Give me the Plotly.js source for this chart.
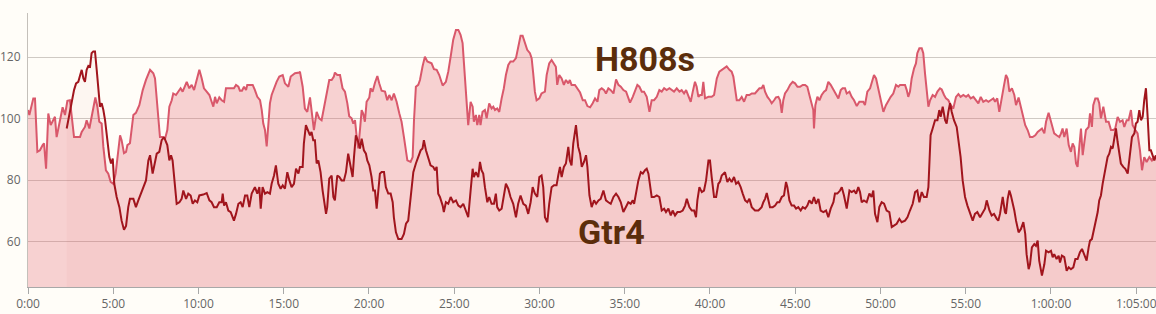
<!DOCTYPE html>
<html>
<head>
<meta charset="utf-8">
<script src="https://cdn.plot.ly/plotly-3.0.1.min.js"></script>
<style>
  html, body { margin: 0; padding: 0; background: #fffdf8; }
  #chart { width: 1156px; height: 314px; }
</style>
</head>
<body>
<div id="chart"></div>
<script>
// time in minutes, heart rate in bpm
const h808sTime = [0,0.08,0.31,0.41,0.55,0.70,0.86,0.94,1.06,1.19,1.33,1.45,1.58,1.68,1.88,2.03,2.17,2.31,2.46,2.56,2.70,3.05,3.15,3.34,3.44,3.60,3.79,3.95,4.07,4.18,4.32,4.42,4.57,4.71,4.85,5.00,5.14,5.30,5.40,5.49,5.63,5.75,5.83,5.98,6.18,6.33,6.53,6.73,6.92,7.16,7.35,7.45,7.59,7.74,7.90,8.04,8.17,8.29,8.43,8.52,8.68,8.82,8.95,9.07,9.21,9.31,9.46,9.60,9.74,9.85,9.93,10.05,10.19,10.32,10.48,10.64,10.77,10.87,10.97,11.07,11.22,11.36,11.50,11.61,11.85,12.08,12.20,12.34,12.43,12.55,12.67,12.79,12.86,13.02,13.18,13.31,13.45,13.61,13.71,13.80,13.90,14.00,14.10,14.19,14.29,14.43,14.58,14.74,14.94,15.07,15.27,15.41,15.52,15.66,15.91,15.95,16.11,16.24,16.38,16.54,16.63,16.77,16.93,17.08,17.22,17.36,17.51,17.67,17.81,17.94,18.00,18.14,18.30,18.45,18.59,18.73,18.84,18.98,19.08,19.18,19.27,19.37,19.47,19.57,19.66,19.76,19.86,20.02,20.09,20.21,20.35,20.49,20.60,20.74,20.94,21.07,21.19,21.33,21.46,21.62,21.78,21.91,22.05,22.17,22.25,22.44,22.56,22.64,22.75,22.89,22.99,23.14,23.28,23.42,23.67,23.81,23.97,24.12,24.32,24.51,24.65,24.79,24.94,25.10,25.24,25.37,25.49,25.57,25.68,25.82,25.96,26.08,26.15,26.27,26.35,26.47,26.54,26.66,26.80,26.90,27.05,27.19,27.29,27.39,27.52,27.64,27.78,27.91,28.03,28.17,28.30,28.46,28.62,28.75,28.89,29.01,29.15,29.28,29.44,29.54,29.63,29.73,29.83,29.99,30.12,30.32,30.42,30.57,30.71,30.85,30.96,31.04,31.16,31.30,31.43,31.55,31.69,31.78,31.88,32.08,32.21,32.38,32.54,32.67,32.81,32.97,33.12,33.26,33.40,33.51,33.65,33.79,33.90,34.04,34.18,34.34,34.49,34.63,34.77,34.92,35.08,35.21,35.31,35.47,35.61,35.74,35.86,36.00,36.13,36.29,36.45,36.58,36.72,36.88,37.03,37.17,37.31,37.46,37.62,37.76,37.89,38.05,38.21,38.34,38.48,38.60,38.73,38.87,38.99,39.12,39.22,39.32,39.42,39.52,39.61,39.71,39.91,40.10,40.24,40.40,40.55,40.79,40.98,41.14,41.27,41.37,41.47,41.57,41.72,41.86,42.00,42.15,42.31,42.45,42.64,42.78,42.90,43.03,43.13,43.23,43.37,43.52,43.62,43.76,43.87,44.01,44.11,44.21,44.30,44.40,44.54,44.70,44.85,44.99,45.13,45.28,45.44,45.58,45.71,45.83,45.97,46.06,46.10,46.18,46.30,46.42,46.55,46.69,46.81,46.94,47.08,47.24,47.39,47.53,47.67,47.78,47.92,48.02,48.18,48.31,48.45,48.61,48.76,48.99,49.09,49.23,49.39,49.48,49.62,49.74,49.88,50.01,50.17,50.32,50.46,50.60,50.75,50.91,51.05,51.15,51.30,51.44,51.54,51.63,51.73,51.83,51.97,52.08,52.16,52.28,52.42,52.51,52.61,52.71,52.81,52.91,53.06,53.20,53.34,53.49,53.59,53.73,53.84,53.98,54.12,54.27,54.43,54.57,54.70,54.86,55.02,55.15,55.29,55.45,55.60,55.74,55.88,56.03,56.19,56.33,56.46,56.62,56.72,56.85,56.97,57.11,57.25,57.36,57.46,57.56,57.71,57.85,57.95,58.10,58.24,58.38,58.49,58.63,58.77,58.92,59.08,59.22,59.35,59.47,59.61,59.71,59.86,60.00,60.10,60.19,60.33,60.49,60.59,60.68,60.78,60.92,61.04,61.17,61.27,61.37,61.47,61.56,61.66,61.76,61.86,61.95,62.05,62.21,62.29,62.40,62.48,62.60,62.74,62.83,62.93,63.07,63.23,63.38,63.52,63.66,63.77,63.91,64.05,64.20,64.30,64.44,64.55,64.69,64.79,64.95,65.08,65.22,65.34,65.47,65.61,65.77,65.92,66.06,66.16];
const h808sHr = [102.8,101.2,106.6,106.6,89.2,89.7,91.4,92,83.7,101.7,97.9,99,100.6,94,99.5,103.7,101.2,105.8,106,101.7,94,94,95.7,97.3,99.5,96.8,102.8,106.9,103.9,99,98.4,90.8,83.2,82.1,79.4,78.8,82.1,90.8,94.6,93,88.8,89.2,91.4,92,101.2,101.9,104.4,109.3,112.6,115.9,114.8,113.1,103.9,94,94,93.5,96.3,103.9,106,108.2,107.7,108.8,109.9,108.8,111,112,109.9,111,109.3,111.5,113.7,115.9,113.1,109.9,108.8,107.7,105.5,103.9,107.1,105,106.9,106,105.5,109.9,109.9,109.9,111,110.4,109.1,109.1,110.4,109.3,111,111,111,109.3,107.1,106,102.8,98.4,96.3,91,97.3,105,107.7,109.9,112,113.7,114.2,111.5,110.4,113.7,114.2,114.8,115,115.3,110.4,103.3,102.2,106.9,102.8,96.3,102.2,100.1,99.5,103.9,108.2,112.6,112.6,113.7,115,114.2,114.2,109.9,108.8,105,100.8,100.1,98.4,99.5,94.6,90.3,96.3,102.8,101.7,99,105.5,106.9,109.9,108.8,111.7,113.9,111.5,109.1,108.8,106,107.7,106,108.2,105.5,101.7,99,94,89.7,86.4,85.9,87.5,99.5,110.4,111,112.6,117,120.2,118.6,118,116.1,115.9,114.2,110.8,112,115.3,120.2,125.7,128.9,128.9,127.3,124.6,118,108.2,97.9,105.5,103.9,99,101.2,97.9,101.2,97.9,102.2,102.8,100.1,105,103.3,103.9,102.8,103.3,102.2,106.6,109.9,114.2,117.5,118.6,118.6,119.7,123.5,127,127,124.6,122.4,121.3,119.7,114.8,108.8,106,106.6,108.2,108.8,114.2,118,119.1,118,116.9,111,114.2,113.1,111,112.6,111.5,112.6,111,111,109.9,108.5,106,106,104.1,103.7,105,106.6,105.5,109.3,109.9,109.3,108.2,109.9,109.3,108.2,112.8,111,110.4,109.3,108.8,106.6,105.2,107.1,109.3,111,110.4,108.8,108.8,107.1,102.2,106,106,107.1,109.3,108.8,109.9,109.3,109.9,109.3,108.8,109.9,108.8,109.3,108.2,109.3,107.1,105.5,108.8,112,110.4,107.1,107.7,107.7,112,106.6,107.1,107.1,107.7,113.1,115.3,116.4,117,115.9,115.3,113.7,110.4,106,106,107.1,105.5,107.7,107.7,108.2,108.2,109.3,109.9,109.9,111,108.8,107.1,106,105,106,106.9,107.1,106,101.9,106,108.2,109.3,111,112,111.5,110.4,110.4,111,111,110.4,107.7,105,102.8,96.8,104.4,107.1,106,107.7,108.8,109.3,112,111,109.3,108.2,106.6,109.3,109.9,109.9,108.2,108.8,107.1,106,104.1,105.5,105.5,104.4,108.8,109.9,111.5,114.2,113.1,109.3,106.6,102.2,104.4,106,107.1,108.2,111,110.4,111,111,111,109.3,107.1,108.8,113.1,116.4,118,121.3,122.9,122.9,121.3,114.8,109.3,103.9,106,107.7,107.1,108.8,109.9,109.5,107.7,106.6,106,104.4,103.3,107.1,108,107.1,107.7,107.1,107.7,106.6,107.1,106,105,107.1,105.5,106,105.5,106,106.6,105.5,106.6,102.2,106,111,114.2,113.1,108.8,109.9,107.7,104.4,106.9,103.9,100.6,97.9,96.3,94,94,94.6,95.7,96.3,96.8,95.2,99,101.9,99,96.3,95.2,94.6,94,95.2,96.8,94,96.8,91.4,89.2,91.9,90.8,85.4,84.3,90.8,96.8,88.1,93,96.3,97.3,101.7,97.3,104.4,106.6,106.6,105,100.1,103.9,99,99,96.3,96.3,96.8,100.6,99,99.5,97.3,99.5,99.5,102.8,97.9,96.3,95.2,89.7,83.2,87.5,85.9,87.5,86.4,87.5,87];

const gtr4Time = [2.27,2.42,2.56,2.70,2.82,2.95,3.09,3.15,3.25,3.34,3.44,3.54,3.64,3.73,3.83,3.93,4.03,4.14,4.22,4.32,4.42,4.52,4.65,4.77,4.87,4.97,5.06,5.20,5.36,5.49,5.63,5.75,5.88,5.98,6.18,6.33,6.47,6.67,6.80,6.92,7.06,7.16,7.31,7.45,7.55,7.70,7.84,7.98,8.13,8.17,8.29,8.39,8.48,8.62,8.72,8.88,9.01,9.11,9.27,9.40,9.54,9.66,9.79,9.93,10.05,10.28,10.48,10.64,10.77,10.91,11.07,11.22,11.36,11.42,11.50,11.61,11.75,11.89,12.08,12.20,12.34,12.47,12.59,12.73,12.86,12.98,13.12,13.31,13.45,13.57,13.65,13.76,13.90,14.04,14.19,14.29,14.43,14.54,14.68,14.82,14.94,15.07,15.21,15.33,15.46,15.60,15.72,15.86,15.95,16.11,16.18,16.30,16.44,16.54,16.63,16.73,16.83,16.93,17.03,17.16,17.28,17.38,17.48,17.55,17.67,17.81,17.91,18.00,18.14,18.26,18.39,18.53,18.65,18.78,18.88,19.04,19.12,19.23,19.37,19.47,19.57,19.70,19.82,19.90,20.02,20.15,20.25,20.35,20.45,20.54,20.64,20.74,20.88,20.99,21.13,21.27,21.39,21.46,21.58,21.72,21.91,22.05,22.17,22.30,22.40,22.50,22.60,22.75,22.89,23.03,23.14,23.22,23.34,23.48,23.61,23.77,23.87,23.97,24.06,24.16,24.32,24.39,24.51,24.65,24.79,24.94,25.10,25.24,25.37,25.53,25.68,25.82,25.96,26.08,26.15,26.27,26.41,26.51,26.60,26.70,26.80,26.94,27.05,27.19,27.33,27.44,27.52,27.64,27.78,27.91,28.03,28.17,28.30,28.46,28.62,28.75,28.89,29.05,29.20,29.34,29.48,29.60,29.73,29.87,29.99,30.12,30.22,30.32,30.46,30.57,30.71,30.85,31.00,31.10,31.20,31.30,31.43,31.55,31.69,31.78,31.88,31.98,32.14,32.27,32.38,32.48,32.61,32.73,32.81,32.93,33.06,33.20,33.32,33.46,33.59,33.75,33.90,34.04,34.18,34.34,34.49,34.63,34.77,34.92,35.08,35.21,35.35,35.47,35.55,35.66,35.80,35.94,36.06,36.19,36.29,36.39,36.49,36.58,36.72,36.88,37.03,37.17,37.31,37.42,37.56,37.70,37.81,37.95,38.09,38.24,38.40,38.54,38.64,38.79,38.93,39.07,39.18,39.26,39.38,39.52,39.65,39.77,39.91,40.00,40.10,40.24,40.36,40.49,40.59,40.69,40.88,41.02,41.14,41.27,41.41,41.53,41.66,41.80,41.92,42.06,42.19,42.31,42.45,42.64,42.84,43.03,43.13,43.23,43.33,43.42,43.52,43.68,43.82,43.95,44.07,44.21,44.34,44.46,44.54,44.66,44.79,44.93,45.05,45.18,45.32,45.44,45.58,45.71,45.83,45.97,46.10,46.22,46.36,46.49,46.65,46.81,46.94,47.08,47.24,47.33,47.47,47.63,47.73,47.86,48.02,48.18,48.31,48.45,48.57,48.70,48.80,48.90,49.03,49.19,49.35,49.48,49.58,49.68,49.82,49.93,50.07,50.21,50.36,50.52,50.66,50.79,50.95,51.11,51.24,51.44,51.58,51.73,51.89,52.03,52.16,52.28,52.42,52.55,52.71,52.81,52.87,52.94,53.06,53.20,53.34,53.45,53.53,53.65,53.79,53.88,53.98,54.08,54.18,54.31,54.47,54.57,54.70,54.82,54.96,55.10,55.25,55.41,55.54,55.68,55.84,55.99,56.13,56.23,56.39,56.52,56.66,56.82,56.91,57.01,57.17,57.30,57.36,57.46,57.56,57.65,57.75,57.85,57.95,58.10,58.24,58.38,58.49,58.57,58.69,58.77,58.88,59.02,59.12,59.22,59.31,59.47,59.61,59.71,59.86,60.00,60.10,60.19,60.33,60.45,60.53,60.64,60.78,60.92,61.04,61.17,61.31,61.43,61.56,61.70,61.82,61.95,62.09,62.21,62.29,62.40,62.54,62.64,62.74,62.83,62.93,63.03,63.13,63.23,63.32,63.42,63.52,63.62,63.71,63.81,63.91,64.01,64.10,64.24,64.36,64.50,64.59,64.75,64.89,64.98,65.08,65.18,65.28,65.38,65.47,65.57,65.67,65.77,65.86,65.96,66.06,66.16];
const gtr4Hr = [96.8,101.2,106,109.3,111.5,112,114.8,115.9,113.1,112,115.9,117.2,116.9,121.3,121.9,121.9,115.9,108.2,103.9,105,102.8,99.5,93,87.5,85.4,87,78.8,74.5,71.2,66.8,63.8,65.1,71.2,73.9,73.9,71.2,73.4,76.1,78.3,79.9,86.4,88.1,82.1,86.4,88.6,89.2,93,94,91.9,91.4,86.4,88.1,86.4,77.7,72.3,72.8,73.9,76.6,73.9,75.6,75,72.3,73.4,72.8,75,75.3,75.8,73.4,72.8,71.2,71.2,72.8,72.8,75.6,71.7,72.8,70.1,69.6,66.8,69,72.3,72.8,71.2,75,75,71.2,75.6,77.7,75.6,77.7,70.7,77.7,75.6,76.1,75.6,78.8,81.5,84.8,78.8,77.2,78.3,77.2,82.6,79.9,77.7,78.8,83.7,82.1,84.3,84.3,91.9,97.9,95.7,94.6,95.7,93,93,85.4,86.4,82.6,76.6,72.8,69,71.2,80.5,81.5,74.5,73.4,81.5,81,79.9,79.9,82.6,88.6,85.9,81,87.5,94.6,92.4,90.3,93.5,89.7,88.6,86.4,84.8,81,76.6,76.6,70.7,77.7,82.1,82.6,82.6,77.7,75.6,75.6,72.8,67.9,63,60.8,60.8,62.5,65.8,66.8,71.7,76.6,82.6,85.4,87.5,89.7,90.3,93,89.7,87.5,84.8,84.3,83.2,84.3,75.6,74.5,71.7,69.6,72.8,72.3,74.5,72.8,73.4,71.7,71.2,72.3,70.1,67.9,76.6,83.7,81,82.6,81,85.9,83.2,82.1,77.7,72.8,74.5,72.3,72.3,75.6,71.2,70.1,70.7,75,78.8,77.2,74.5,72.3,67.9,72.3,75,72.3,71.7,69,72.8,77.7,75.6,74.5,81,81.5,77.7,67.9,66.3,72.3,77.7,78.3,78.3,81.5,84.3,81,84.3,85.4,90.8,86.4,84.8,91.9,97.9,90.8,88.6,84.3,85.9,88.1,84.3,75,71.2,73.4,72.3,73.4,73.9,76.6,73.4,72.8,72.3,74.5,75.6,74.5,72.8,69.6,71.7,72.8,72.3,73.4,72.3,75.6,79.9,82.6,82.1,83.2,83.7,82.1,78.3,74.5,74.5,75,74.5,70.1,70.7,69.6,70.7,68.5,70.1,68.5,69.6,69.6,70.1,71.7,73.9,71.2,70.1,70.1,67.9,73.4,77.7,76.1,76.6,79.9,86.4,86.4,81,74.5,74.5,78.8,79.5,81.5,82.6,79.4,80.5,79.4,81,78.8,79.4,77.7,75.6,73.4,72.8,73.9,71.2,70.1,70.1,71.2,72.8,73.9,75.8,73.9,71.2,71.2,71.7,72.8,72.8,74.5,75,79.4,77.7,73.4,71.7,71.7,70.7,71.2,70.1,71.2,70.7,71.7,73.4,72.3,74.5,72.3,73.9,70.1,69.6,70.1,67.9,70.7,72.8,75.6,75.6,76.6,77.7,75,70.7,76.6,76.1,76.6,75.6,77.7,76.1,72.8,73.4,72.8,75.6,74.5,76.6,69,66.3,71.2,72.8,72.3,70.1,69.6,64.7,65.2,65.8,67.4,66.3,66.8,67.9,70.1,72.3,76.1,76.6,72.8,76.1,74.5,74.5,77.7,88.6,94.6,96.8,99.5,99.5,102.8,100.6,103.9,99.5,98.4,102.2,105,102.2,99.5,97.3,93,87.5,79.9,74.5,71.7,69,66.8,69,69.6,67.9,69.6,70.7,73.4,70.1,68.5,69,67.4,66.8,69,74.5,69.6,69,73.9,76.6,75,72.8,70.1,66.8,63,64.1,66.3,62.5,55.9,51,52.6,58.1,59.2,58.6,60.3,53.8,48.9,52.6,57,56.5,57,54.9,55.9,54.3,55.4,53.2,55.4,54.9,50.5,51.6,51,51.6,54.3,54.3,56.5,57.6,55.9,53.8,58.1,60.3,60.8,64.1,66.8,69.6,73.4,75,78.8,82.1,84.3,87.5,88.6,90.8,90.3,93.5,96.8,92.4,88.6,85.4,84.3,83.7,82.1,86.4,94,95.2,98.4,99,102.8,99.5,100.6,106,109.9,100.6,89.7,89.7,88.1,86.4,88.1];

const tickMinutes = [0,5,10,15,20,25,30,35,40,45,50,55,60,65];
const tickLabels = ["0:00","5:00","10:00","15:00","20:00","25:00","30:00","35:00","40:00","45:00","50:00","55:00","1:00:00","1:05:00"];
const yTicks = [60,80,100,120];
const seriesNames = ["H808s","Gtr4"];

const traces = [
  {
    x: h808sTime, y: h808sHr, name: seriesNames[0], type: 'scatter', mode: 'lines',
    line: {color: '#d9586b', width: 2},
    fill: 'tozeroy', fillcolor: 'rgba(224,92,104,0.27)',
    hoverinfo: 'skip'
  },
  {
    x: gtr4Time, y: gtr4Hr, name: seriesNames[1], type: 'scatter', mode: 'lines',
    line: {color: '#a1151d', width: 2},
    fill: 'tozeroy', fillcolor: 'rgba(200,60,60,0.035)',
    hoverinfo: 'skip'
  }
];

const layout = {
  width: 1156, height: 314,
  margin: {l: 28, r: 0, t: 13, b: 27, pad: 0},
  paper_bgcolor: '#fffdf8',
  plot_bgcolor: '#fffdf8',
  showlegend: false,
  font: {family: '"Open Sans", sans-serif', size: 12, color: '#666'},
  xaxis: {
    range: [0, 66.16],
    tickvals: tickMinutes, ticktext: tickLabels,
    showgrid: false, zeroline: false,
    showline: true, linecolor: '#a8a8a8', linewidth: 1,
    ticks: 'outside', ticklen: 6, tickcolor: '#a8a8a8', tickwidth: 1,
    ticklabeloverflow: 'allow',
    tickfont: {family: '"Open Sans", sans-serif', size: 12, color: '#666'},
    fixedrange: true
  },
  yaxis: {
    range: [45.2, 134.4],
    tickvals: yTicks,
    showgrid: true, gridcolor: '#cfcac4', gridwidth: 1,
    zeroline: false,
    showline: true, linecolor: '#c4c0ba', linewidth: 1,
    ticks: '', ticklabelstandoff: 4,
    tickfont: {family: '"Open Sans", sans-serif', size: 12, color: '#666'},
    fixedrange: true
  },
  annotations: [
    {x: 36.2, y: 119.4, xref: 'x', yref: 'y', text: seriesNames[0], showarrow: false,
     font: {family: 'Roboto, sans-serif', size: 34, color: '#5b2d0b', weight: 'bold'},
     xanchor: 'center', yanchor: 'middle'},
    {x: 34.2, y: 63, xref: 'x', yref: 'y', text: seriesNames[1], showarrow: false,
     font: {family: 'Roboto, sans-serif', size: 34, color: '#5b2d0b', weight: 'bold'},
     xanchor: 'center', yanchor: 'middle'}
  ]
};

Plotly.newPlot('chart', traces, layout, {staticPlot: true, displayModeBar: false});
</script>
</body>
</html>
